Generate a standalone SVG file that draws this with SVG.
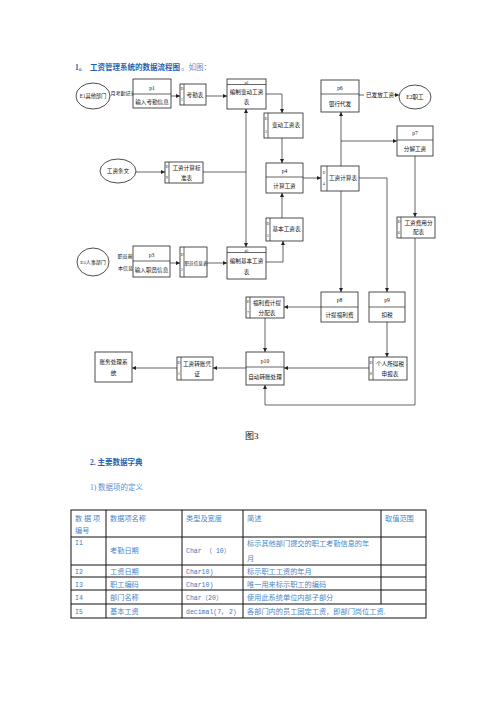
<svg xmlns="http://www.w3.org/2000/svg" width="496" height="702" viewBox="0 0 496 702">
<style>
.ln{stroke:#222;stroke-width:0.7;fill:none}
.ar{stroke:#222;stroke-width:0.7;fill:none;marker-end:url(#ah)}
.bx{fill:#fff;stroke:#222;stroke-width:0.8}
.t{font-family:"Liberation Serif","Noto Sans CJK SC",serif;font-size:5.6px;fill:#111;text-anchor:middle}
.s{font-family:"Liberation Serif","Noto Sans CJK SC",serif;font-size:3.6px;fill:#111;text-anchor:middle}
.h{font-family:"Liberation Serif","Noto Sans CJK SC",serif;font-size:7.5px;font-weight:bold;fill:#1f62b0}
.hl{font-family:"Liberation Serif","Noto Sans CJK SC",serif;font-size:7.5px;fill:#5b8fd0}
.tb{font-family:"Liberation Serif","Noto Sans CJK SC",serif;font-size:7.2px;fill:#4a86c8}
.tm{font-family:"Liberation Mono","Noto Sans CJK SC",monospace;font-size:6.5px;fill:#3c78c0}
.grid{stroke:#111;stroke-width:1;fill:none}
</style>
<defs>
<marker id="ah" viewBox="0 0 6 6" refX="6" refY="3" markerWidth="4" markerHeight="4" markerUnits="userSpaceOnUse" orient="auto">
<path d="M0,0 L6,3 L0,6 z" fill="#222"/>
</marker>
</defs>
<rect width="496" height="702" fill="#fff"/>

<g id="title">
<text class="h" x="75" y="70">1。</text>
<text class="h" x="90" y="70">工资管理系统的数据流程图</text>
<text class="hl" x="181" y="70">。如图：</text>
</g>

<g id="connectors">
<path class="ar" d="M171,96 H180"/>
<path class="ar" d="M206,96 H227"/>
<path class="ar" d="M266,94 H282 V113"/>
<path class="ar" d="M282,138 V163"/>
<path class="ar" d="M136,172 H165"/>
<path class="ln" d="M203,172 H246"/>
<path class="ar" d="M246,172 V109"/>
<path class="ar" d="M246,172 V247"/>
<path class="ar" d="M282,218 V193"/>
<path class="ar" d="M266,262 H283 V241"/>
<path class="ar" d="M170,263 H180"/>
<path class="ar" d="M207,263 H227"/>
<path class="ar" d="M303,178 H321"/>
<path class="ar" d="M341,166 V112"/>
<path class="ar" d="M341,141 H397"/>
<path class="ln" d="M359,95 H364"/>
<path class="ar" d="M394,95 H399"/>
<path class="ar" d="M415,156 V217"/>
<path class="ar" d="M415,238 V405 H265 V385"/>
<path class="ar" d="M341,191 V292"/>
<path class="ar" d="M359,178 H387 V292"/>
<path class="ar" d="M321,307 H284"/>
<path class="ar" d="M265,318 V352"/>
<path class="ar" d="M387,322 V357"/>
<path class="ar" d="M369,368 H284"/>
<path class="ar" d="M246,368 H213"/>
<path class="ar" d="M177,368 H132"/>
<text class="t" x="380" y="97">已发放工资</text>
<text class="t" x="123" y="95" style="font-size:5px">月考勤记录</text>
<text class="t" x="125" y="258" style="font-size:5px">职员基</text>
<text class="t" x="125.5" y="270" style="font-size:5px">本信息</text>
</g>

<g id="E1">
<ellipse class="bx" cx="93" cy="96" rx="17" ry="13"/>
<text class="t" x="93" y="98" style="font-size:5.2px">E1其他部门</text>
</g>
<g id="p1">
<rect class="bx" x="133" y="79" width="38" height="29"/>
<line class="ln" x1="133" y1="94" x2="171" y2="94"/>
<text class="t" x="152" y="90">p1</text>
<text class="t" x="152" y="104">输入考勤信息</text>
</g>
<g id="D1">
<rect class="bx" x="180" y="84" width="26" height="21"/>
<line class="ln" x1="184" y1="84" x2="184" y2="105"/>
<text class="s" x="182" y="90">D</text>
<text class="s" x="182" y="101">1</text>
<text class="t" x="195" y="97">考勤表</text>
</g>
<g id="p2">
<rect class="bx" x="227" y="79" width="39" height="30"/>
<line class="ln" x1="227" y1="84.5" x2="266" y2="84.5"/>
<text class="s" x="246.5" y="83.5">p2</text>
<text class="t" x="246.5" y="94">编制变动工资</text>
<text class="t" x="246.5" y="104">表</text>
</g>
<g id="D_bd">
<rect class="bx" x="264" y="113" width="39" height="25"/>
<line class="ln" x1="268" y1="113" x2="268" y2="138"/>
<text class="s" x="266" y="120">D</text>
<text class="s" x="266" y="133">3</text>
<text class="t" x="286" y="127">变动工资表</text>
</g>
<g id="p4">
<rect class="bx" x="266" y="163" width="37" height="30"/>
<line class="ln" x1="266" y1="177" x2="303" y2="177"/>
<text class="t" x="284.5" y="173">p4</text>
<text class="t" x="284.5" y="188">计算工资</text>
</g>
<g id="E_gz">
<ellipse class="bx" cx="118" cy="171" rx="18" ry="12"/>
<text class="t" x="118" y="173">工资条文</text>
</g>
<g id="D_bz">
<rect class="bx" x="165" y="162" width="38" height="21"/>
<line class="ln" x1="169" y1="162" x2="169" y2="183"/>
<text class="s" x="167" y="168">D</text>
<text class="s" x="167" y="179">9</text>
<text class="t" x="186.5" y="170">工资计算标</text>
<text class="t" x="186.5" y="180">准表</text>
</g>
<g id="D_jb">
<rect class="bx" x="266" y="218" width="37" height="23"/>
<line class="ln" x1="270" y1="218" x2="270" y2="241"/>
<text class="s" x="268" y="225">D</text>
<text class="s" x="268" y="237">5</text>
<text class="t" x="286.5" y="231">基本工资表</text>
</g>
<g id="p5">
<rect class="bx" x="227" y="247" width="39" height="32"/>
<line class="ln" x1="227" y1="252.5" x2="266" y2="252.5"/>
<text class="s" x="246.5" y="251.5">p5</text>
<text class="t" x="246.5" y="263">编制基本工资</text>
<text class="t" x="246.5" y="274">表</text>
</g>
<g id="E3">
<ellipse class="bx" cx="93" cy="262" rx="16" ry="14"/>
<text class="t" x="93" y="264" style="font-size:5px">E3人事部门</text>
</g>
<g id="p3">
<rect class="bx" x="133" y="246" width="37" height="31"/>
<line class="ln" x1="133" y1="261" x2="170" y2="261"/>
<text class="t" x="151.5" y="257">p3</text>
<text class="t" x="151.5" y="272">输入职员信息</text>
</g>
<g id="D_zy">
<rect class="bx" x="180" y="247" width="27" height="30"/>
<line class="ln" x1="184" y1="247" x2="184" y2="277"/>
<text class="s" x="182" y="256">D</text>
<text class="s" x="182" y="271">2</text>
<text class="t" x="196" y="265" style="font-size:4.6px">职员信息表</text>
</g>
<g id="D_js">
<rect class="bx" x="321" y="166" width="38" height="25"/>
<line class="ln" x1="327" y1="166" x2="327" y2="191"/>
<text class="s" x="324" y="174">D</text>
<text class="s" x="324" y="185">4</text>
<text class="t" x="343" y="180">工资计算表</text>
</g>
<g id="p6">
<rect class="bx" x="321" y="80" width="38" height="32"/>
<line class="ln" x1="321" y1="94" x2="359" y2="94"/>
<text class="t" x="340" y="90">p6</text>
<text class="t" x="340" y="106">银行代发</text>
</g>
<g id="E2">
<ellipse class="bx" cx="415" cy="97" rx="16" ry="12"/>
<text class="t" x="415" y="99">E2职工</text>
</g>
<g id="p7">
<rect class="bx" x="397" y="126" width="36" height="30"/>
<line class="ln" x1="397" y1="140" x2="433" y2="140"/>
<text class="t" x="415" y="135">p7</text>
<text class="t" x="415" y="151">分解工资</text>
</g>
<g id="D_fy">
<rect class="bx" x="397" y="217" width="38" height="21"/>
<line class="ln" x1="401" y1="217" x2="401" y2="238"/>
<text class="s" x="399" y="223">D</text>
<text class="s" x="399" y="234">6</text>
<text class="t" x="418.5" y="225">工资费用分</text>
<text class="t" x="418.5" y="234">配表</text>
</g>
<g id="p8">
<rect class="bx" x="321" y="292" width="37" height="30"/>
<line class="ln" x1="321" y1="307" x2="358" y2="307"/>
<text class="t" x="339.5" y="302">p8</text>
<text class="t" x="339.5" y="317">计提福利费</text>
</g>
<g id="p9">
<rect class="bx" x="369" y="292" width="36" height="30"/>
<line class="ln" x1="369" y1="307" x2="405" y2="307"/>
<text class="t" x="387" y="302">p9</text>
<text class="t" x="387" y="317">扣税</text>
</g>
<g id="D_fl">
<rect class="bx" x="246" y="297" width="38" height="21"/>
<line class="ln" x1="250" y1="297" x2="250" y2="318"/>
<text class="s" x="248" y="303">D</text>
<text class="s" x="248" y="314">7</text>
<text class="t" x="267" y="305">福利费计提</text>
<text class="t" x="267" y="315">分配表</text>
</g>
<g id="p10">
<rect class="bx" x="246" y="352" width="38" height="33"/>
<line class="ln" x1="246" y1="367" x2="284" y2="367"/>
<text class="t" x="265" y="363">p10</text>
<text class="t" x="265" y="379">自动转账处理</text>
</g>
<g id="D_gr">
<rect class="bx" x="369" y="357" width="38" height="23"/>
<line class="ln" x1="373" y1="357" x2="373" y2="380"/>
<text class="s" x="371" y="364">D</text>
<text class="s" x="371" y="375">8</text>
<text class="t" x="390" y="366">个人所得税</text>
<text class="t" x="390" y="376">申报表</text>
</g>
<g id="D_zz">
<rect class="bx" x="177" y="357" width="36" height="23"/>
<line class="ln" x1="181" y1="357" x2="181" y2="380"/>
<text class="s" x="179" y="364">D</text>
<text class="s" x="179" y="375">1</text>
<text class="t" x="197" y="366">工资转账凭</text>
<text class="t" x="197" y="376">证</text>
</g>
<g id="zwcl">
<rect class="bx" x="95" y="352" width="37" height="30"/>
<text class="t" x="113.5" y="364">账务处理系</text>
<text class="t" x="113.5" y="375">统</text>
</g>

<text x="245" y="439" style="font-family:'Liberation Serif','Noto Sans CJK SC',serif;font-size:9px;fill:#111">图3</text>

<g id="section2">
<text class="h" x="90" y="465">2.  主要数据字典</text>
<text class="hl" x="90" y="490">1)  数据项的定义</text>
</g>

<g id="table">
<rect class="grid" x="71" y="510" width="355" height="108"/>
<line class="grid" x1="106" y1="510" x2="106" y2="618"/>
<line class="grid" x1="182" y1="510" x2="182" y2="618"/>
<line class="grid" x1="243" y1="510" x2="243" y2="618"/>
<line class="grid" x1="381" y1="510" x2="381" y2="604"/>
<line class="grid" x1="71" y1="537" x2="426" y2="537"/>
<line class="grid" x1="71" y1="565" x2="426" y2="565"/>
<line class="grid" x1="71" y1="577" x2="426" y2="577"/>
<line class="grid" x1="71" y1="590" x2="426" y2="590"/>
<line class="grid" x1="71" y1="604" x2="426" y2="604"/>
<text class="tb" x="75" y="521">数 据 项</text>
<text class="tb" x="75" y="533">编号</text>
<text class="tb" x="110" y="521">数据项名称</text>
<text class="tb" x="186" y="521">类型及宽度</text>
<text class="tb" x="247" y="521">简述</text>
<text class="tb" x="385" y="521">取值范围</text>
<text class="tm" x="75" y="545">I1</text>
<text class="tb" x="110" y="553">考勤日期</text>
<text class="tm" x="186" y="553">Char （ 10）</text>
<text class="tb" x="247" y="546">标示其他部门提交的职工考勤信息的年</text>
<text class="tb" x="247" y="561">月</text>
<text class="tm" x="75" y="574">I2</text>
<text class="tb" x="110" y="574">工资日期</text>
<text class="tm" x="186" y="574">Char10)</text>
<text class="tb" x="247" y="574">标示职工工资的年月</text>
<text class="tm" x="75" y="587">I3</text>
<text class="tb" x="110" y="587">职工编码</text>
<text class="tm" x="186" y="587">Char10)</text>
<text class="tb" x="247" y="587">唯一用来标示职工的编码</text>
<text class="tm" x="75" y="600">I4</text>
<text class="tb" x="110" y="600">部门名称</text>
<text class="tm" x="186" y="600">Char（20）</text>
<text class="tb" x="247" y="600">使用此系统单位内部子部分</text>
<text class="tm" x="75" y="614">I5</text>
<text class="tb" x="110" y="614">基本工资</text>
<text class="tm" x="186" y="614">decimal(7, 2)</text>
<text class="tb" x="247" y="614">各部门内的员工固定工资，即部门岗位工资.</text>
</g>
</svg>
